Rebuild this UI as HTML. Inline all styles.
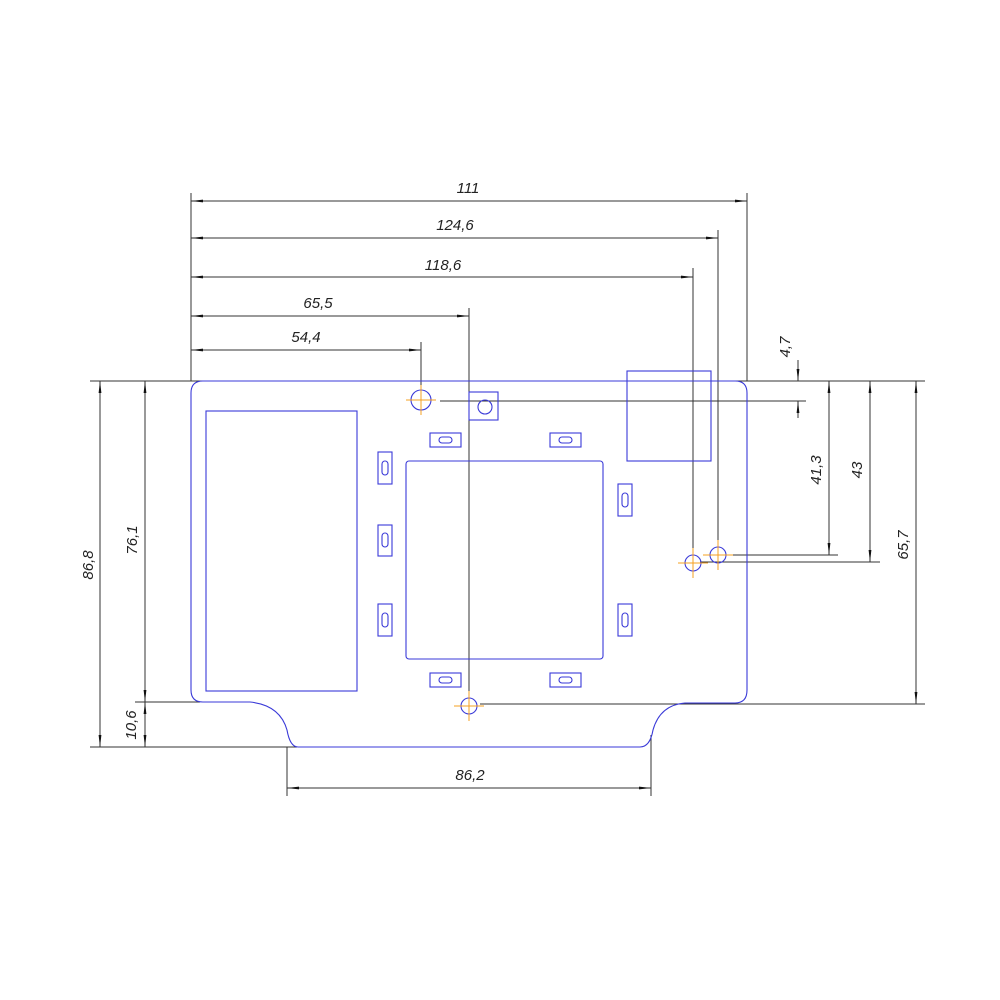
<!DOCTYPE html>
<html><head><meta charset="utf-8"><style>
html,body{margin:0;padding:0;background:#fff}
svg{display:block}
text{font-family:"Liberation Sans",sans-serif;font-style:italic;font-size:15px;fill:#222}
</style></head><body>
<svg width="1000" height="1000" viewBox="0 0 1000 1000" xmlns="http://www.w3.org/2000/svg">
<defs>
<marker id="a" viewBox="0 0 12 4" refX="12" refY="2" markerWidth="12" markerHeight="4" orient="auto-start-reverse" markerUnits="userSpaceOnUse"><path d="M0,0.6 L12,2 L0,3.4z" fill="#111"/></marker>
</defs>
<g stroke="#333" stroke-width="1" fill="none">
<!-- horizontal dims -->
<line x1="191" y1="201" x2="747" y2="201" marker-start="url(#a)" marker-end="url(#a)"/>
<line x1="191" y1="238" x2="718" y2="238" marker-start="url(#a)" marker-end="url(#a)"/>
<line x1="191" y1="277" x2="693" y2="277" marker-start="url(#a)" marker-end="url(#a)"/>
<line x1="191" y1="316" x2="469" y2="316" marker-start="url(#a)" marker-end="url(#a)"/>
<line x1="191" y1="350" x2="421" y2="350" marker-start="url(#a)" marker-end="url(#a)"/>
<line x1="287" y1="788" x2="651" y2="788" marker-start="url(#a)" marker-end="url(#a)"/>
<!-- extension lines -->
<line x1="191" y1="193" x2="191" y2="381"/>
<line x1="747" y1="193" x2="747" y2="381"/>
<line x1="718" y1="230" x2="718" y2="555"/>
<line x1="693" y1="268" x2="693" y2="563"/>
<line x1="469" y1="308" x2="469" y2="706"/>
<line x1="421" y1="342" x2="421" y2="400"/>
<line x1="287" y1="747" x2="287" y2="796"/>
<line x1="651" y1="735" x2="651" y2="796"/>
<line x1="90" y1="381" x2="925" y2="381"/>
<line x1="440" y1="401" x2="806" y2="401"/>
<line x1="727" y1="555" x2="838" y2="555"/>
<line x1="700" y1="562" x2="880" y2="562"/>
<line x1="480" y1="704" x2="925" y2="704"/>
<line x1="90" y1="747" x2="297" y2="747"/>
<line x1="135" y1="702" x2="200" y2="702"/>
<!-- vertical dims -->
<line x1="798" y1="360" x2="798" y2="381" marker-end="url(#a)"/>
<line x1="798" y1="418" x2="798" y2="401" marker-end="url(#a)"/>
<line x1="829" y1="381" x2="829" y2="555" marker-start="url(#a)" marker-end="url(#a)"/>
<line x1="870" y1="381" x2="870" y2="562" marker-start="url(#a)" marker-end="url(#a)"/>
<line x1="916" y1="381" x2="916" y2="704" marker-start="url(#a)" marker-end="url(#a)"/>
<line x1="100" y1="381" x2="100" y2="747" marker-start="url(#a)" marker-end="url(#a)"/>
<line x1="145" y1="381" x2="145" y2="702" marker-start="url(#a)" marker-end="url(#a)"/>
<line x1="145" y1="702" x2="145" y2="747" marker-start="url(#a)" marker-end="url(#a)"/>
</g>
<g stroke="#3a3ad8" stroke-width="1.1" fill="none">
<path d="M203,381 L735,381 Q747,381 747,393 L747,690 Q747,703 735,703 L685,703 Q660,705 653,730 Q650,747 640,747 L298,747 Q290,747 287,730 Q280,705 250,702 L203,702 Q191,702 191,690 L191,393 Q191,381 203,381Z"/>
<rect x="206" y="411" width="151" height="280"/>
<rect x="627" y="371" width="84" height="90"/>
<rect x="406" y="461" width="197" height="198" rx="3"/>
<rect x="469" y="392" width="29" height="28"/>
<circle cx="485" cy="407" r="7"/>
<circle cx="421" cy="400" r="10"/>
<circle cx="469" cy="706" r="8"/>
<circle cx="693" cy="563" r="8"/>
<circle cx="718" cy="555" r="8"/>
<rect x="430" y="433" width="31" height="14"/><rect x="439" y="437" width="13" height="6" rx="3"/>
<rect x="550" y="433" width="31" height="14"/><rect x="559" y="437" width="13" height="6" rx="3"/>
<rect x="430" y="673" width="31" height="14"/><rect x="439" y="677" width="13" height="6" rx="3"/>
<rect x="550" y="673" width="31" height="14"/><rect x="559" y="677" width="13" height="6" rx="3"/>
<rect x="378" y="452" width="14" height="32"/><rect x="382" y="461" width="6" height="14" rx="3"/>
<rect x="378" y="525" width="14" height="31"/><rect x="382" y="533" width="6" height="14" rx="3"/>
<rect x="378" y="604" width="14" height="32"/><rect x="382" y="613" width="6" height="14" rx="3"/>
<rect x="618" y="484" width="14" height="32"/><rect x="622" y="493" width="6" height="14" rx="3"/>
<rect x="618" y="604" width="14" height="32"/><rect x="622" y="613" width="6" height="14" rx="3"/>
</g>
<g stroke="#f5a020" stroke-width="1">
<line x1="406" y1="400" x2="436" y2="400"/><line x1="421" y1="385" x2="421" y2="415"/>
<line x1="454" y1="706" x2="484" y2="706"/><line x1="469" y1="691" x2="469" y2="721"/>
<line x1="678" y1="563" x2="708" y2="563"/><line x1="693" y1="548" x2="693" y2="578"/>
<line x1="703" y1="555" x2="733" y2="555"/><line x1="718" y1="540" x2="718" y2="570"/>
</g>
<text x="468" y="193" text-anchor="middle">111</text>
<text x="455" y="230" text-anchor="middle">124,6</text>
<text x="443" y="270" text-anchor="middle">118,6</text>
<text x="318" y="308" text-anchor="middle">65,5</text>
<text x="306" y="342" text-anchor="middle">54,4</text>
<text x="470" y="780" text-anchor="middle">86,2</text>
<text transform="translate(790,347) rotate(-90)" text-anchor="middle">4,7</text>
<text transform="translate(821,470) rotate(-90)" text-anchor="middle">41,3</text>
<text transform="translate(862,470) rotate(-90)" text-anchor="middle">43</text>
<text transform="translate(908,545) rotate(-90)" text-anchor="middle">65,7</text>
<text transform="translate(93,565) rotate(-90)" text-anchor="middle">86,8</text>
<text transform="translate(137,540) rotate(-90)" text-anchor="middle">76,1</text>
<text transform="translate(136,725) rotate(-90)" text-anchor="middle">10,6</text>
</svg>
</body></html>
